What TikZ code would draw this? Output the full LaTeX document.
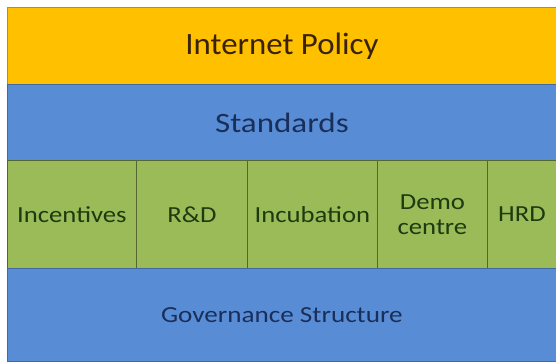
\documentclass[tikz,border=0pt]{standalone}
\usepackage{fontspec}
\setmainfont{Carlito}
\definecolor{orangefill}{HTML}{FFC000}
\definecolor{bluefill}{HTML}{588DD6}
\definecolor{greenfill}{HTML}{9BBB59}
\definecolor{orangetext}{HTML}{3A2206}
\definecolor{bluetext}{HTML}{1A2E5A}
\definecolor{greentext}{HTML}{1E3A0E}
\tikzset{
  band/.style={draw=#1!75!black, line width=0.8pt, anchor=north west, inner sep=0pt},
  greenbox/.style={fill=greenfill, draw=greenfill!55!black, line width=0.8pt, anchor=north west, inner sep=0pt, text=greentext, font=\fontsize{23}{25}\selectfont, align=center},
}
\newcommand{\sx}[1]{\scalebox{1.16}[1]{#1}}
\begin{document}
\begin{tikzpicture}[x=1pt,y=-1pt]
\useasboundingbox[fill=white] (0,0) rectangle (556,361);
\node[band=orangefill, fill=orangefill, minimum width=549pt, minimum height=77pt, text=orangetext, font=\fontsize{31}{33}\selectfont] (policy) at (7,7) {\scalebox{1.06}[1]{Internet Policy}};
\node[band=bluefill, fill=bluefill, minimum width=549pt, minimum height=76pt, text=bluetext, font=\fontsize{28}{30}\selectfont] (standards) at (7,84) {\scalebox{1.18}[1]{Standards}};
\node[greenbox, minimum width=129pt, minimum height=108pt] (incent) at (7,160) {\sx{Incentives}};
\node[greenbox, minimum width=111pt, minimum height=108pt] (rd) at (136,160) {\sx{R\&D}};
\node[greenbox, minimum width=130pt, minimum height=108pt] (incub) at (247,160) {\sx{Incubation}};
\node[greenbox, minimum width=110pt, minimum height=108pt] (demo) at (377,160) {\sx{Demo}\\\sx{centre}};
\node[greenbox, minimum width=69pt, minimum height=108pt] (hrd) at (487,160) {\sx{HRD}};
\node[band=bluefill, fill=bluefill, minimum width=549pt, minimum height=93pt, text=bluetext, font=\fontsize{23}{25}\selectfont] (gov) at (7,268) {\scalebox{1.18}[1]{Governance Structure}};
\end{tikzpicture}
\end{document}
